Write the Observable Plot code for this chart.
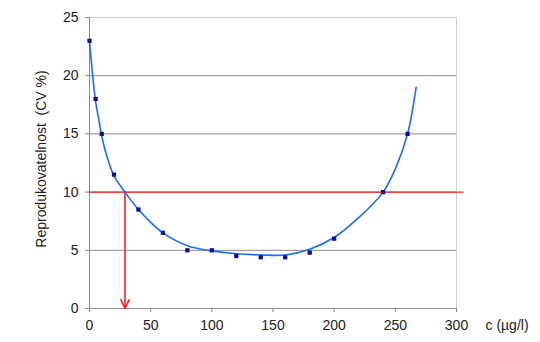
<!DOCTYPE html>
<html><head><meta charset="utf-8">
<script src="https://cdn.jsdelivr.net/npm/d3@7"></script>
<script src="https://cdn.jsdelivr.net/npm/@observablehq/plot@0.6"></script>
<style>body{margin:0;background:#fff;font-family:"Liberation Sans",Arial,sans-serif}</style>
</head><body><div id="chart"></div>
<script>
const measX = [0,5,10,20,40,60,80,100,120,140,160,180,200,240,260];
const measY = [23,18,15,11.5,8.5,6.5,5,5,4.5,4.4,4.4,4.8,6,10,15];
const fitX = [0,3,5,8,10,15,20,29,40,50,60,80,100,120,140,160,180,200,220,240,250,260,267];
const fitY = [23,19.6,17.8,16,14.8,12.8,11.4,10,8.5,7.4,6.5,5.4,4.95,4.7,4.6,4.6,5.1,6.1,7.8,10,12,15,19];
const xTicks = [0,50,100,150,200,250,300];
const yTicks = [0,5,10,15,20,25];
const limitY = 10, limitX = 29;

const meas = measX.map((x,i)=>({x, y: measY[i]}));
const fit = fitX.map((x,i)=>({x, y: fitY[i]}));

const chart = Plot.plot({
  width: 540, height: 342,
  marginLeft: 89, marginRight: 84, marginTop: 17, marginBottom: 34,
  style: {fontFamily: '"Liberation Sans", Arial, sans-serif', fontSize: "14px", color: "#222", overflow: "visible"},
  x: {domain: [0,300], label: null},
  y: {domain: [0,25], label: null},
  marks: [
    Plot.ruleY(yTicks.filter(d=>d>0 && d<25), {stroke: "#8a8a8a", strokeWidth: 1}),
    Plot.ruleY([25], {stroke: "#cfcfcf", strokeWidth: 1}),
    Plot.ruleX([300], {stroke: "#cfcfcf", strokeWidth: 1}),
    Plot.ruleX([0], {stroke: "#8a8a8a"}),
    Plot.ruleY([0], {stroke: "#8a8a8a"}),
    Plot.ruleY([limitY], {x1: 0, x2: 306, stroke: "#ff2020", strokeWidth: 1.3, clip: false}),
    Plot.arrow([{x: limitX}], {x1: "x", x2: "x", y1: limitY, y2: 0, stroke: "#ff2020", strokeWidth: 1.6, headLength: 9, headAngle: 50, insetEnd: 0}),
    Plot.line(fit, {x: "x", y: "y", curve: "catmull-rom", stroke: "#1a6cff", strokeWidth: 1.6}),
    Plot.dot(meas, {x: "x", y: "y", symbol: "square", r: 2.4, fill: "#10108a", stroke: "none"}),
    Plot.axisX({ticks: xTicks, tickSize: 4, tickPadding: 8, label: null, stroke: "#8a8a8a", fontSize: 14}),
    Plot.axisY({ticks: yTicks, tickSize: 4, tickPadding: 7, label: null, stroke: "#8a8a8a", fontSize: 14}),
    Plot.text(["c (µg/l)"], {frameAnchor: "bottom-right", dx: 29, dy: 17, fontSize: 14, textAnchor: "start", lineAnchor: "middle"}),
    Plot.text(["Reprodukovatelnost  (CV %)"], {frameAnchor: "left", dx: -48, dy: -4, rotate: -90, fontSize: 14, textAnchor: "middle", lineAnchor: "middle"})
  ]
});
document.getElementById("chart").appendChild(chart);
</script></body></html>
